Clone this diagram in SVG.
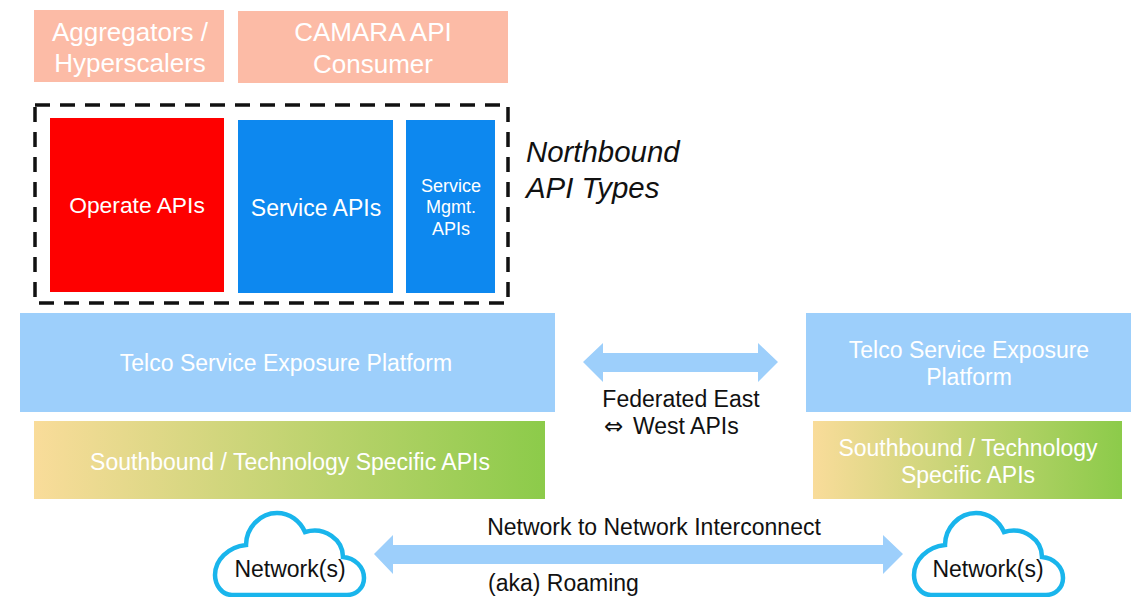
<svg xmlns="http://www.w3.org/2000/svg" width="1140" height="597" viewBox="0 0 1140 597">
<style>
text{font-family:"Liberation Sans",Arial,sans-serif;text-anchor:middle}
.w{fill:#fff}.k{fill:#111}
.peach{fill:#fcbba6}.sky{fill:#9dcffb}.blue{fill:#0d88ef}
.cloud{fill:#fff;stroke:#19b5ec;stroke-width:4.5}
</style>
<defs>
<linearGradient id="g"><stop offset="0" stop-color="#f9dc9a"/><stop offset="1" stop-color="#8ccb4a"/></linearGradient>
<path id="c" d="M232 595C222 595 215 585 215 575C215 560 228 547 246 545C246 528 260 513 277 513C290 513 300 521 305 532C325 526 343 540 343 557C355 558 364 567 364 578C364 588 356 595 347 595Z"/>
</defs>
<g id="aggregators"><rect class="peach" x="34" y="10" width="190" height="72"/><text class="w" font-size="26" x="130" y="41">Aggregators /</text><text class="w" font-size="26" x="130" y="72">Hyperscalers</text></g>
<g id="camara"><rect class="peach" x="238" y="11" width="270" height="72"/><text class="w" font-size="26" x="373" y="41">CAMARA API</text><text class="w" font-size="26" x="373" y="73">Consumer</text></g>
<g id="northbound"><rect x="35" y="105" width="473" height="198" fill="none" stroke="#111" stroke-width="3.5" stroke-dasharray="15 10"/><text class="k" font-size="29.4" font-style="italic" style="text-anchor:start" x="526" y="162">Northbound</text><text class="k" font-size="29.4" font-style="italic" style="text-anchor:start" x="526" y="198">API Types</text></g>
<g id="operate"><rect x="50" y="118" width="174" height="174" fill="#fe0000"/><text class="w" font-size="22.8" x="137" y="213">Operate APIs</text></g>
<g id="service"><rect class="blue" x="238" y="120" width="155" height="173"/><text class="w" font-size="23" x="316" y="216">Service APIs</text></g>
<g id="mgmt"><rect class="blue" x="406" y="120" width="89" height="173"/><text class="w" font-size="18" x="451" y="192">Service</text><text class="w" font-size="18" x="451" y="213">Mgmt.</text><text class="w" font-size="18" x="451" y="235">APIs</text></g>
<g id="platform-left"><rect class="sky" x="20" y="313" width="535" height="99"/><text class="w" font-size="23" x="286" y="371">Telco Service Exposure Platform</text></g>
<g id="platform-right"><rect class="sky" x="806" y="313" width="325" height="99"/><text class="w" font-size="23" x="969" y="358">Telco Service Exposure</text><text class="w" font-size="23" x="969" y="385">Platform</text></g>
<g id="south-left"><rect fill="url(#g)" x="34" y="421" width="511" height="78"/><text class="w" font-size="23" x="290" y="470">Southbound / Technology Specific APIs</text></g>
<g id="south-right"><rect fill="url(#g)" x="813" y="421" width="309" height="78"/><text class="w" font-size="23" x="968" y="456">Southbound / Technology</text><text class="w" font-size="23" x="968" y="483">Specific APIs</text></g>
<g id="network-left"><use href="#c" class="cloud"/><text class="k" font-size="23" x="290" y="577">Network(s)</text></g>
<g id="network-right"><use href="#c" class="cloud" transform="translate(699 0)"/><text class="k" font-size="23" x="988" y="577">Network(s)</text></g>
<g id="connectors">
<path class="sky" d="M583 362L603 343V353H758V343L778 362L758 382V372H603V382Z"/>
<path class="sky" d="M374 554L393 535V545H883V535L903 554L883 574V564H393V574Z"/>
</g>
<g id="labels" class="k">
<text font-size="23" x="681" y="407">Federated East</text>
<text font-size="23" style="text-anchor:start" x="604" y="434"><tspan font-family="DejaVu Sans">⇔</tspan></text>
<text font-size="23" style="text-anchor:start" x="633" y="434">West APIs</text>
<text font-size="23" x="654" y="535">Network to Network Interconnect</text>
<text font-size="23" style="text-anchor:start" x="488" y="591">(aka) Roaming</text>
</g>
</svg>
